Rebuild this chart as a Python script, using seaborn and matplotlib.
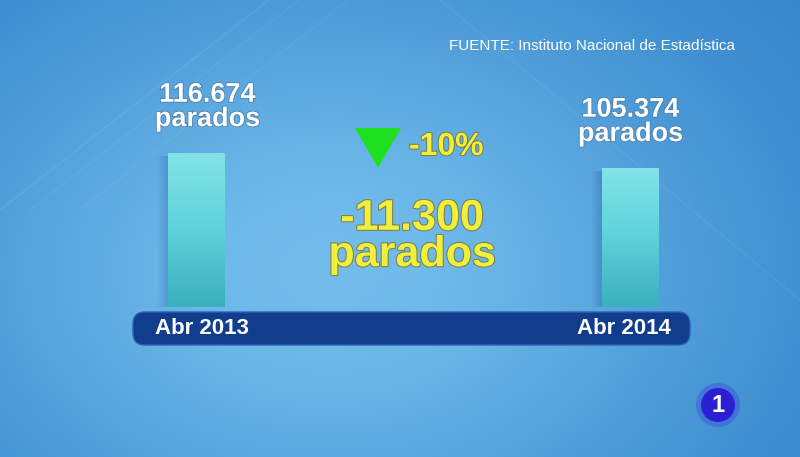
import numpy as np
import matplotlib
matplotlib.use("Agg")
import matplotlib.pyplot as plt
import matplotlib.patheffects as pe
import matplotlib.transforms as mtrans
from matplotlib.patches import FancyBboxPatch, Circle, Polygon
import seaborn as sns

periodos = ["Abr 2013", "Abr 2014"]
parados = [116674, 105374]
fuente = "FUENTE: Instituto Nacional de Estadística"

sns.set_theme(style="white")
plt.rcParams["font.family"] = ["Liberation Sans", "DejaVu Sans"]


def miles(v):
    # spanish thousands separator
    return f"{v:,}".replace(",", ".")


diferencia = parados[1] - parados[0]
porcentaje = round(100 * diferencia / parados[0])

fig = plt.figure(figsize=(8, 4.57), dpi=100)

# background: blue radial gradient + faint streaks
bg = fig.add_axes([0, 0, 1, 1], zorder=0)
yy, xx = np.mgrid[0:457, 0:800]
w = np.exp(-(((xx - 330) / 420.0) ** 2 + ((yy - 270) / 300.0) ** 2))
dark = np.array([0x2e, 0x80, 0xc8]) / 255
light = np.array([0x72, 0xbd, 0xec]) / 255
img = dark + (light - dark) * w[..., None]
bg.imshow(img, extent=(0, 800, 457, 0), aspect="auto")
for x0, a in [(0, 0.06), (30, 0.04), (80, 0.035)]:
    bg.plot([x0, x0 + 320], [210, -40], color="white", lw=1.5, alpha=a)
bg.plot([440, 800], [0, 300], color="white", lw=0.8, alpha=0.07)
bg.set_xlim(0, 800)
bg.set_ylim(457, 0)
bg.axis("off")

# base band under the bars
band = FancyBboxPatch((133, 312), 557, 33, boxstyle="round,pad=0,rounding_size=12",
                      fc="#113d8c", ec="#2b62b2", lw=1)
bg.add_patch(band)

# bars
ax = fig.add_axes([133 / 800, 150 / 457, 557 / 800, 267 / 457], zorder=2)
ax.patch.set_alpha(0)
sns.barplot(x=periodos, y=parados, color="#5ccfd7", width=0.131, ax=ax,
            edgecolor="none", saturation=1)

px = 1 / 434  # one pixel in category units
grad = np.linspace(0, 1, 100)[:, None]
bar_cmap = matplotlib.colors.LinearSegmentedColormap.from_list(
    "bar", ["#82e4e8", "#5dd2da", "#3bb0be"])
for p in list(ax.patches):
    x, y0 = p.get_x(), p.get_y()
    wd, ht = p.get_width(), p.get_height()
    # soft shadow on the left side
    for k in range(2, 12, 2):
        ax.bar(x + wd / 2 - k * px, ht * 0.98, width=wd, bottom=y0,
               color="#1c4f95", alpha=0.05, zorder=1, edgecolor="none")
    im = ax.imshow(grad, extent=(x, x + wd, y0, y0 + ht), cmap=bar_cmap,
                   aspect="auto", zorder=3)
    im.set_clip_path(p)
    p.set_zorder(3)

ax.set_xlim(-0.146, 1.137)
ax.set_ylim(0, max(parados) * 267 / 154)

shadow = [pe.withStroke(linewidth=1.2, foreground="#4f7fae")]
offsets = [8, 0]
for i, v in enumerate(parados):
    ax.annotate(f"{miles(v)}\nparados", (i, v), xytext=(offsets[i], 15),
                textcoords="offset points", ha="center", va="bottom",
                fontsize=19.5, fontweight="bold", color="white",
                linespacing=0.92, path_effects=shadow)

ax.set_yticks([])
ax.set_ylabel("")
ax.tick_params(axis="x", length=0, pad=8, labelsize=16, labelcolor="white")
for t, dx in zip(ax.get_xticklabels(), [6, -7]):
    t.set_fontweight("bold")
    t.set_transform(t.get_transform() + mtrans.ScaledTranslation(dx / 100, 0, fig.dpi_scale_trans))
sns.despine(ax=ax, left=True, bottom=True)

# change annotations
yellow_fx = [pe.withStroke(linewidth=1.5, foreground="#7d7d52")]
tri = Polygon([[355, 128], [401, 128], [378, 168]], closed=True, fc="#1fe01f",
              ec="none", zorder=3)
bg.add_patch(tri)
fig.text(409 / 800, 1 - 147 / 457, f"{porcentaje}%", ha="left", va="center",
         fontsize=23, fontweight="bold", color="#f0f03c", path_effects=yellow_fx,
         zorder=5)
fig.text(412 / 800, 1 - 237 / 457, f"{miles(diferencia)}\nparados", ha="center",
         va="center", fontsize=31, fontweight="bold", color="#f0f03c",
         linespacing=0.88, path_effects=yellow_fx, zorder=5)

# source
fig.text(735 / 800, 1 - 46 / 457, fuente, ha="right", va="center", fontsize=11,
         color="white", zorder=5)

# channel logo
bg.add_patch(Circle((718, 405), 22, fc="#3a3ae0", alpha=0.35, ec="none"))
bg.add_patch(Circle((718, 405), 17, fc="#2a1fd2", ec="none"))
bg.text(718, 406, "1", ha="center", va="center", fontsize=17, fontweight="bold",
        color="white")

fig.savefig("out.png", dpi=100)
